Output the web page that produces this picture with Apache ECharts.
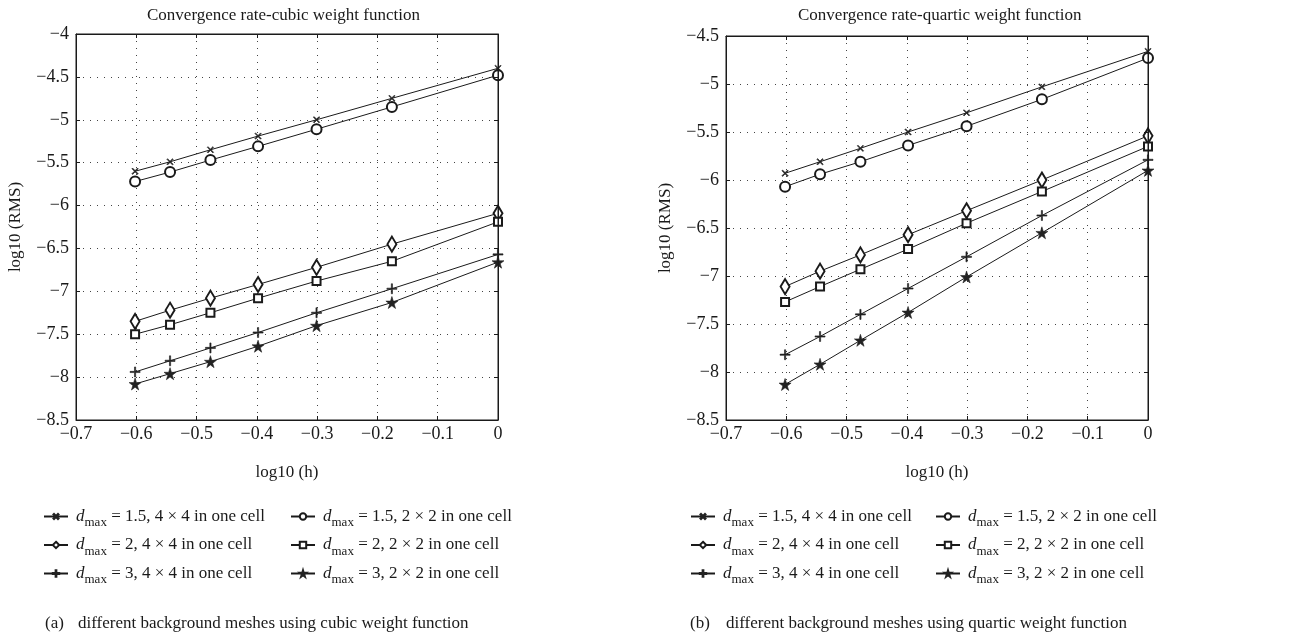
<!DOCTYPE html>
<html>
<head>
<meta charset="utf-8">
<script src="https://cdn.jsdelivr.net/npm/echarts@6/dist/echarts.min.js"></script>
<style>html,body{margin:0;padding:0;background:#fff}#c{width:1298px;height:638px}</style>
</head>
<body>
<div id="c"></div>
<script>
// x positions: log10(h)
var xVals = [-0.602, -0.544, -0.477, -0.398, -0.301, -0.176, 0];
var xTicks = [-0.7, -0.6, -0.5, -0.4, -0.3, -0.2, -0.1, 0];
var yTicksCubic = [-8.5, -8, -7.5, -7, -6.5, -6, -5.5, -5, -4.5, -4];
var yTicksQuartic = [-8.5, -8, -7.5, -7, -6.5, -6, -5.5, -5, -4.5];

var seriesNames = [
  'dmax = 1.5, 4 × 4 in one cell',
  'dmax = 1.5, 2 × 2 in one cell',
  'dmax = 2, 4 × 4 in one cell',
  'dmax = 2, 2 × 2 in one cell',
  'dmax = 3, 4 × 4 in one cell',
  'dmax = 3, 2 × 2 in one cell'
];

// (a) cubic weight function
var cubic_15_44 = [-5.60, -5.49, -5.35, -5.19, -5.00, -4.75, -4.40];
var cubic_15_22 = [-5.72, -5.61, -5.47, -5.31, -5.11, -4.85, -4.48];
var cubic_2_44  = [-7.35, -7.22, -7.08, -6.92, -6.72, -6.45, -6.09];
var cubic_2_22  = [-7.50, -7.39, -7.25, -7.08, -6.88, -6.65, -6.19];
var cubic_3_44  = [-7.94, -7.81, -7.66, -7.48, -7.25, -6.97, -6.57];
var cubic_3_22  = [-8.08, -7.96, -7.82, -7.64, -7.40, -7.13, -6.66];

// (b) quartic weight function
var quartic_15_44 = [-5.93, -5.81, -5.67, -5.50, -5.30, -5.03, -4.66];
var quartic_15_22 = [-6.07, -5.94, -5.81, -5.64, -5.44, -5.16, -4.73];
var quartic_2_44  = [-7.11, -6.95, -6.78, -6.57, -6.32, -6.00, -5.54];
var quartic_2_22  = [-7.27, -7.11, -6.93, -6.72, -6.45, -6.12, -5.65];
var quartic_3_44  = [-7.82, -7.63, -7.40, -7.13, -6.80, -6.37, -5.79];
var quartic_3_22  = [-8.13, -7.92, -7.67, -7.38, -7.01, -6.55, -5.90];

var FONT = '"Liberation Serif", "Times New Roman", serif';
var INK = '#1a1a1a';

var plusPath = 'path://M4.4,0h1.2v4.4h4.4v1.2h-4.4v4.4h-1.2v-4.4h-4.4v-1.2h4.4z';
var starPath = 'path://M50,0L61,35L98,35L68,57L79,91L50,70L21,91L32,57L2,35L39,35Z';

var markerStyles = [
  {symbol: plusPath, symbolSize: 8, symbolRotate: 45, fill: true},
  {symbol: 'emptyCircle', symbolSize: 10},
  {symbol: 'emptyDiamond', symbolSize: [9, 15]},
  {symbol: 'emptyRect', symbolSize: 8},
  {symbol: plusPath, symbolSize: 10, fill: true},
  {symbol: starPath, symbolSize: 12, fill: true}
];

function fmtNum(v) {
  var r = Math.round(v * 10) / 10;
  if (r === 0) return '0';
  return String(r).replace('-', '\u2212');
}

function makeSeries(dataArr, gridIdx) {
  return dataArr.map(function (arr, i) {
    var m = markerStyles[i];
    return {
      type: 'line',
      name: seriesNames[i],
      xAxisIndex: gridIdx * 2,
      yAxisIndex: gridIdx * 2,
      data: xVals.map(function (x, k) { return [x, arr[k]]; }),
      symbol: m.symbol,
      symbolSize: m.symbolSize,
      symbolRotate: m.symbolRotate || 0,
      showAllSymbol: true,
      animation: false,
      z: 5,
      lineStyle: {color: INK, width: 1},
      itemStyle: m.fill ? {color: '#222', borderColor: '#222', borderWidth: 0.6} : {color: INK, borderColor: INK, borderWidth: 1},
      emphasis: {disabled: true}
    };
  });
}

function xAxisCfg(gi) {
  return {
    type: 'value', gridIndex: gi, min: -0.7, max: 0, interval: 0.1,
    name: 'log10 (h)', nameLocation: 'middle', nameGap: 44,
    nameTextStyle: {fontFamily: FONT, fontSize: 17, color: INK},
    axisLine: {show: true, onZero: false, lineStyle: {color: INK, width: 1}},
    axisTick: {show: true, inside: true, length: 4, lineStyle: {color: INK}},
    axisLabel: {fontFamily: FONT, fontSize: 18, color: INK, margin: 5, formatter: fmtNum},
    splitLine: {show: true, lineStyle: {color: '#444', width: 1, type: [1, 6]}}
  };
}
function xAxisTop(gi) {
  return {
    type: 'value', gridIndex: gi, min: -0.7, max: 0, interval: 0.1, position: 'top', z: 10,
    axisLine: {show: true, onZero: false, lineStyle: {color: INK, width: 1, type: 'solid'}},
    axisTick: {show: true, inside: true, length: 4, lineStyle: {color: INK}},
    axisLabel: {show: false}, splitLine: {show: false}
  };
}
function yAxisCfg(gi, mn, mx) {
  return {
    type: 'value', gridIndex: gi, min: mn, max: mx, interval: 0.5,
    name: 'log10 (RMS)', nameLocation: 'middle', nameGap: 52,
    nameTextStyle: {fontFamily: FONT, fontSize: 17, color: INK},
    axisLine: {show: true, onZero: false, lineStyle: {color: INK, width: 1}},
    axisTick: {show: true, inside: true, length: 4, lineStyle: {color: INK}},
    axisLabel: {fontFamily: FONT, fontSize: 18, color: INK, margin: 7, formatter: fmtNum},
    splitLine: {show: true, lineStyle: {color: '#444', width: 1, type: [1, 6]}}
  };
}
function yAxisRight(gi, mn, mx) {
  return {
    type: 'value', gridIndex: gi, min: mn, max: mx, interval: 0.5, position: 'right', z: 10,
    axisLine: {show: true, onZero: false, lineStyle: {color: INK, width: 1}},
    axisTick: {show: true, inside: true, length: 4, lineStyle: {color: INK}},
    axisLabel: {show: false}, splitLine: {show: false}
  };
}

var richLegend = {
  d: {fontFamily: FONT, fontSize: 17, fontStyle: 'italic', color: INK, lineHeight: 26, verticalAlign: 'middle'},
  s: {fontFamily: FONT, fontSize: 13, color: INK, lineHeight: 13, verticalAlign: 'bottom'},
  t: {fontFamily: FONT, fontSize: 17, color: INK, lineHeight: 26, verticalAlign: 'middle'}
};
function legendFmt(name) {
  return '{d|d}{s|max}{t|' + name.replace(/^dmax/, '') + '}';
}
function legendCfg(left, top, names) {
  return {
    orient: 'vertical', left: left, top: top, padding: 0, itemGap: 7, itemWidth: 24, itemHeight: 8,
    data: names, formatter: legendFmt, selectedMode: false,
    textStyle: {fontFamily: FONT, fontSize: 17, color: INK, rich: richLegend, padding: [0, 0, 0, 3]}
  };
}

var col1 = [seriesNames[0], seriesNames[2], seriesNames[4]];
var col2 = [seriesNames[1], seriesNames[3], seriesNames[5]];

var option = {
  backgroundColor: '#fff',
  animation: false,
  grid: [
    {left: 76, top: 34, width: 422, height: 386, show: true, borderColor: INK, borderWidth: 1, z: 10},
    {left: 726, top: 36, width: 422, height: 384, show: true, borderColor: INK, borderWidth: 1, z: 10}
  ],
  xAxis: [xAxisCfg(0), xAxisTop(0), xAxisCfg(1), xAxisTop(1)],
  yAxis: [yAxisCfg(0, -8.5, -4), yAxisRight(0, -8.5, -4), yAxisCfg(1, -8.5, -4.5), yAxisRight(1, -8.5, -4.5)],
  legend: [
    legendCfg(43, 508, col1),
    legendCfg(290, 508, col2),
    legendCfg(690, 508, col1),
    legendCfg(935, 508, col2)
  ],
  graphic: [
    {type: 'text', left: 147, top: 7, style: {text: 'Convergence rate-cubic weight function', font: '17px ' + FONT, fill: INK}},
    {type: 'text', left: 798, top: 7, style: {text: 'Convergence rate-quartic weight function', font: '17px ' + FONT, fill: INK}},
    {type: 'text', left: 45, top: 615, style: {text: '(a)', font: '17px ' + FONT, fill: INK}},
    {type: 'text', left: 78, top: 615, style: {text: 'different background meshes using cubic weight function', font: '17px ' + FONT, fill: INK}},
    {type: 'text', left: 690, top: 615, style: {text: '(b)', font: '17px ' + FONT, fill: INK}},
    {type: 'text', left: 726, top: 615, style: {text: 'different background meshes using quartic weight function', font: '17px ' + FONT, fill: INK}}
  ],
  series: makeSeries([cubic_15_44, cubic_15_22, cubic_2_44, cubic_2_22, cubic_3_44, cubic_3_22], 0)
    .concat(makeSeries([quartic_15_44, quartic_15_22, quartic_2_44, quartic_2_22, quartic_3_44, quartic_3_22], 1))
};

var chart = echarts.init(document.getElementById('c'), null, {renderer: 'canvas'});
chart.setOption(option);
</script>
</body>
</html>
